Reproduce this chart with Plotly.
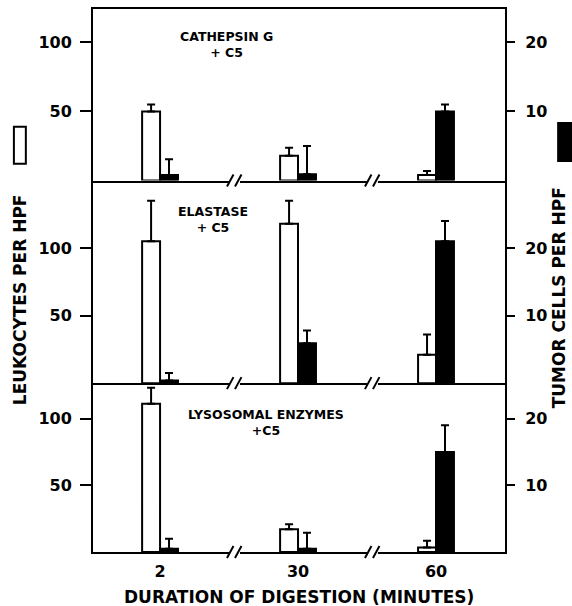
import plotly.graph_objects as go

# ---- data ----
durations = ["2", "30", "60"]
positions = [0, 1, 2]
panel_titles = ["CATHEPSIN G<br>+ C5", "ELASTASE<br>+ C5", "LYSOSOMAL ENZYMES<br>+C5"]

leuk_cathepsin = [50, 18, 4]
leuk_cathepsin_err = [5, 5.8, 3]
tumor_cathepsin = [0.8, 0.9, 10]
tumor_cathepsin_err = [2.3, 4.1, 1]

leuk_elastase = [105, 118, 21]
leuk_elastase_err = [30, 17, 15]
tumor_elastase = [0.4, 5.9, 21]
tumor_elastase_err = [1.1, 1.9, 3]

leuk_lyso = [111, 17, 3.4]
leuk_lyso_err = [12, 3.7, 5]
tumor_lyso = [0.5, 0.5, 15]
tumor_lyso_err = [1.5, 2.4, 4]

left_ticks = [50, 100]
right_ticks = [10, 20]

panels = [
    (leuk_cathepsin, leuk_cathepsin_err, tumor_cathepsin, tumor_cathepsin_err),
    (leuk_elastase, leuk_elastase_err, tumor_elastase, tumor_elastase_err),
    (leuk_lyso, leuk_lyso_err, tumor_lyso, tumor_lyso_err),
]
left_ranges = [124, 150, 126.5]
domains = [[0.684, 1.0], [0.311, 0.684], [0.0, 0.311]]
label_pos = [(0.325, 0.935), (0.291, 0.612), (0.42, 0.238)]

FONT = "DejaVu Sans"
BW = 0.13
XR = [-0.486, 2.5]

fig = go.Figure()
layout = dict(
    width=572, height=606,
    margin=dict(l=93, r=67, t=7, b=54),
    paper_bgcolor="white", plot_bgcolor="white",
    showlegend=False, barmode="overlay",
    font=dict(family=FONT, color="black", size=16, weight="bold"),
)
shapes = []
annotations = []

for i, (lv, le, tv, te) in enumerate(panels):
    k = i + 1
    xname = "x" if k == 1 else f"x{k}"
    yl = 2 * k - 1
    yr = 2 * k
    ylname = "y" if yl == 1 else f"y{yl}"
    yrname = f"y{yr}"
    fig.add_trace(go.Bar(
        x=positions, y=lv, width=BW, offset=-BW,
        marker=dict(color="white", line=dict(color="black", width=2)),
        error_y=dict(type="data", symmetric=False, array=le, arrayminus=[0]*3,
                     color="black", thickness=2, width=4),
        xaxis=xname, yaxis=ylname,
    ))
    fig.add_trace(go.Bar(
        x=positions, y=tv, width=BW, offset=0,
        marker=dict(color="black", line=dict(color="black", width=2)),
        error_y=dict(type="data", symmetric=False, array=te, arrayminus=[0]*3,
                     color="black", thickness=2, width=4),
        xaxis=xname, yaxis=yrname,
    ))
    xkey = "xaxis" if k == 1 else f"xaxis{k}"
    layout[xkey] = dict(
        domain=[0, 1], anchor=ylname, range=XR, showline=True, linecolor="black",
        linewidth=2, mirror=(k == 1), ticks="", showgrid=False, zeroline=False,
        tickvals=positions, ticktext=durations, showticklabels=(k == 3),
        ticklabelstandoff=4, tickfont=dict(size=16),
    )
    if k != 1:
        layout[xkey]["matches"] = "x"
    ylkey = "yaxis" if yl == 1 else f"yaxis{yl}"
    layout[ylkey] = dict(
        domain=domains[i], anchor=xname, range=[0, left_ranges[i]], side="left",
        showline=True, linecolor="black", linewidth=2, ticks="outside", ticklen=11,
        tickwidth=2, tickcolor="black", tickvals=left_ticks, showgrid=False,
        zeroline=False, ticklabelstandoff=5, tickfont=dict(size=16),
    )
    layout[f"yaxis{yr}"] = dict(
        overlaying=ylname, anchor=xname, range=[0, left_ranges[i] / 5], side="right",
        showline=True, linecolor="black", linewidth=2, ticks="outside", ticklen=8,
        tickwidth=2, tickcolor="black", tickvals=right_ticks, showgrid=False,
        zeroline=False, ticklabelstandoff=7, tickfont=dict(size=16),
    )
    # axis breaks on panel bottom line
    ybot = domains[i][0]
    for c in [0.543, 1.543]:
        shapes.append(dict(type="rect", xref=xname, yref="paper", xsizemode="pixel",
                           ysizemode="pixel", xanchor=c, yanchor=ybot,
                           x0=-6, x1=5, y0=-2.5, y1=2.5,
                           fillcolor="white", line=dict(width=0), layer="above"))
        for dx in [-8, 0]:
            shapes.append(dict(type="line", xref=xname, yref="paper", xsizemode="pixel",
                               ysizemode="pixel", xanchor=c, yanchor=ybot,
                               x0=dx, x1=dx + 6.5, y0=-6, y1=6,
                               line=dict(color="black", width=2), layer="above"))
    px, py = label_pos[i]
    annotations.append(dict(text=panel_titles[i], xref="paper", yref="paper",
                            x=px, y=py, showarrow=False, font=dict(size=12.5),
                            xanchor="center", yanchor="middle", align="center"))

# axis titles
annotations.append(dict(text="LEUKOCYTES PER HPF", xref="paper", yref="paper",
                        x=-0.178, y=0.465, textangle=-90, showarrow=False,
                        xanchor="center", yanchor="middle", font=dict(size=17)))
annotations.append(dict(text="TUMOR CELLS PER HPF", xref="paper", yref="paper",
                        x=1.131, y=0.469, textangle=-90, showarrow=False,
                        xanchor="center", yanchor="middle", font=dict(size=17)))
annotations.append(dict(text="DURATION OF DIGESTION (MINUTES)", xref="paper", yref="paper",
                        x=0.5, y=-0.082, showarrow=False,
                        xanchor="center", yanchor="middle", font=dict(size=17)))

# legend symbols
shapes.append(dict(type="rect", xref="paper", yref="paper", x0=-0.192, x1=-0.163,
                   y0=0.715, y1=0.783, fillcolor="white",
                   line=dict(color="black", width=2)))
shapes.append(dict(type="rect", xref="paper", yref="paper", x0=1.129, x1=1.175,
                   y0=0.720, y1=0.790, fillcolor="black",
                   line=dict(color="black", width=2)))

layout["shapes"] = shapes
layout["annotations"] = annotations
fig.update_layout(**layout)
fig.write_html("out.html", config={"displayModeBar": False},
               post_script="document.body.style.margin='0';")
